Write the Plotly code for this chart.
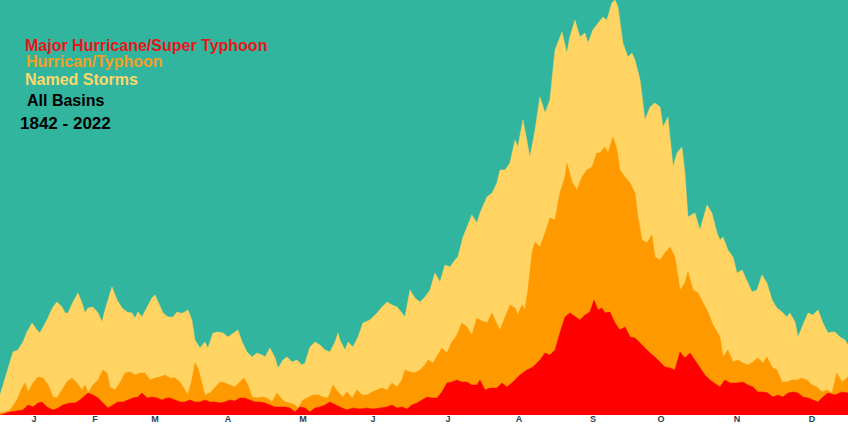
import plotly.graph_objects as go

# Day of year (approx) and relative daily frequency
named_days = [0.0, 3.0, 5.6, 7.7, 9.9, 11.6, 13.8, 15.9, 17.2, 20.2, 22.8, 24.5, 26.7, 28.0, 29.3, 31.4, 33.6, 35.3, 36.6, 37.9,
              40.0, 42.2, 43.9, 45.2, 46.5, 48.2, 50.4, 52.5, 54.7, 56.8, 58.1, 59.4, 61.1, 63.3, 65.4, 66.7, 68.0, 70.2, 72.3,
              74.5, 76.2, 77.5, 78.8, 80.9, 82.6, 83.9, 86.1, 88.2, 89.5, 91.7, 93.8, 96.0, 98.1, 100.3, 102.4, 104.2, 106.3,
              108.5, 110.6, 112.8, 114.1, 116.2, 118.4, 119.7, 121.8, 123.5, 125.7, 127.8, 130.0, 131.3, 133.4, 135.6, 137.7,
              139.9, 142.0, 144.2, 145.5, 146.3, 148.5, 149.8, 151.9, 154.1, 156.2, 159.2, 162.3, 164.4, 166.6, 168.7, 170.9,
              173.0, 174.3, 176.5, 178.6, 180.8, 182.9, 185.1, 187.2, 189.4, 191.5, 193.7, 195.8, 197.1, 199.3, 201.4, 203.1,
              205.3, 206.6, 209.6, 211.8, 213.9, 215.2, 217.4, 219.5, 221.7, 222.9, 225.1, 228.1, 230.3, 232.4, 234.6, 236.7,
              238.9, 241.9, 244.0, 245.3, 247.5, 249.6, 251.8, 253.1, 255.2, 257.4, 259.5, 261.2, 263.4, 264.7, 266.0, 268.1,
              270.3, 272.0, 273.3, 275.5, 277.6, 279.8, 281.9, 284.1, 285.4, 287.5, 289.7, 291.4, 293.5, 294.8, 296.1, 299.1,
              301.3, 304.3, 306.4, 308.6, 309.9, 311.2, 313.3, 315.5, 317.2, 319.4, 321.5, 323.7, 325.8, 328.0, 330.1, 332.3,
              334.4, 336.6, 338.7, 340.0, 342.2, 343.5, 345.6, 347.8, 349.9, 352.1, 354.2, 356.4, 358.1, 359.4, 361.5, 363.7, 365.0]
named_vals = [20, 42, 63, 65, 73, 83, 92, 85, 82, 95, 108, 113, 108, 102, 102, 113, 122, 112, 102, 107,
              108, 102, 93, 105, 115, 128, 115, 107, 103, 102, 97, 103, 98, 108, 117, 120, 113, 102, 98,
              98, 103, 102, 102, 105, 95, 75, 67, 73, 67, 82, 83, 82, 78, 82, 85, 73, 63,
              58, 62, 60, 58, 67, 57, 47, 55, 58, 53, 55, 50, 52, 68, 73, 70,
              65, 63, 73, 82, 75, 65, 73, 68, 78, 92, 95, 102, 108, 113, 110, 108,
              102, 98, 125, 117, 113, 118, 125, 142, 133, 150, 148, 155, 158, 178, 190, 200,
              192, 202, 218, 222, 232, 245, 245, 252, 275, 268, 295, 258, 285, 318, 302, 315,
              365, 383, 362, 378, 395, 378, 382, 372, 385, 392, 398, 395, 412, 415, 408, 372,
              358, 362, 355, 335, 295, 308, 312, 308, 288, 298, 248, 262, 268, 242, 198, 202,
              185, 210, 202, 182, 175, 178, 165, 158, 142, 145, 135, 123, 125, 140, 132, 115,
              107, 103, 98, 102, 93, 78, 90, 102, 100, 105, 92, 82, 83, 83, 78, 75, 70]

hurr_days = [0.0, 2.2, 4.3, 7.3, 9.5, 10.8, 12.1, 14.2, 16.4, 18.5, 20.7, 22.8, 24.5, 26.7, 28.8, 31.0, 33.1, 35.3, 36.6, 37.9,
             40.0, 42.2, 44.3, 46.1, 47.3, 49.5, 51.6, 53.8, 56.0, 58.1, 60.3, 62.4, 64.6, 66.7, 68.9, 71.0, 73.2, 75.3, 77.5,
             79.6, 80.9, 82.6, 83.9, 85.2, 86.9, 88.2, 90.4, 92.5, 94.7, 96.8, 99.0, 101.1, 103.3, 105.0, 106.7, 108.5, 110.6,
             112.8, 114.9, 117.1, 119.2, 120.5, 122.7, 124.8, 127.0, 128.3, 130.4, 132.6, 134.7, 136.9, 139.0, 141.2, 143.3,
             145.5, 147.6, 149.3, 151.5, 153.7, 155.8, 158.0, 160.1, 162.3, 164.4, 166.6, 168.7, 170.9, 173.0, 174.3, 176.5,
             178.6, 180.8, 182.9, 184.2, 186.4, 188.5, 190.2, 192.4, 194.5, 196.7, 198.8, 201.0, 203.1, 205.3, 206.6, 209.6,
             211.8, 213.0, 215.2, 217.4, 219.5, 221.7, 222.9, 224.7, 226.0, 227.2, 229.0, 230.3, 232.4, 234.6, 236.7, 238.9,
             241.0, 243.2, 244.0, 246.2, 248.3, 250.5, 252.6, 254.8, 256.9, 258.2, 260.4, 261.7, 263.8, 265.6, 266.8, 269.0,
             271.2, 273.3, 274.6, 276.3, 278.5, 280.6, 281.9, 284.1, 286.2, 288.4, 290.5, 292.7, 294.8, 296.1, 298.3, 300.4,
             302.6, 304.7, 306.9, 309.0, 309.9, 311.2, 313.3, 315.5, 317.6, 319.8, 321.9, 324.1, 326.2, 328.4, 330.1, 332.3,
             334.4, 336.6, 338.7, 340.9, 343.0, 345.2, 347.3, 349.5, 351.6, 353.8, 355.9, 358.1, 360.2, 362.4, 365.0]
hurr_vals = [2, 3, 5, 15, 27, 32, 23, 32, 38, 37, 30, 18, 17, 25, 33, 37, 32, 25, 30, 22,
             30, 35, 45, 42, 28, 25, 32, 42, 43, 40, 42, 42, 35, 37, 38, 40, 37, 37, 33,
             25, 20, 35, 52, 47, 32, 20, 22, 27, 33, 32, 30, 28, 33, 37, 30, 18, 17,
             18, 17, 13, 22, 18, 13, 12, 10, 7, 15, 18, 20, 20, 18, 17, 30,
             23, 18, 23, 17, 25, 20, 20, 23, 25, 27, 25, 32, 28, 35, 45, 43,
             42, 45, 50, 55, 52, 60, 67, 62, 73, 80, 92, 88, 80, 97, 95, 92,
             102, 95, 85, 98, 110, 107, 100, 110, 105, 125, 162, 173, 168, 182, 197, 195,
             222, 238, 252, 233, 225, 238, 245, 248, 262, 262, 268, 262, 278, 265, 245, 238,
             232, 222, 198, 175, 172, 180, 158, 155, 162, 168, 158, 125, 132, 143, 125, 122,
             112, 103, 90, 82, 78, 58, 65, 53, 55, 52, 50, 53, 57, 52, 58, 48,
             45, 33, 33, 35, 35, 37, 35, 30, 28, 23, 25, 22, 42, 33, 38]

major_days = [0.0, 3.0, 4.3, 7.3, 9.9, 12.1, 14.2, 16.4, 18.1, 20.2, 22.8, 25.0, 27.1, 30.1, 32.3, 34.4, 36.6, 37.9, 40.0,
              42.2, 44.3, 46.5, 48.6, 50.8, 52.9, 55.1, 57.2, 59.4, 61.1, 63.3, 65.4, 67.6, 69.7, 71.9, 73.2, 75.3, 77.5,
              79.6, 81.8, 83.9, 86.1, 88.2, 90.4, 92.5, 94.7, 96.8, 99.0, 101.1, 103.3, 105.4, 107.6, 109.8, 111.9, 114.1,
              116.2, 118.4, 120.5, 122.7, 124.8, 127.0, 129.1, 131.3, 133.4, 135.6, 137.7, 139.9, 142.0, 144.2, 146.3, 149.3,
              151.9, 154.9, 158.0, 160.5, 163.6, 166.6, 168.7, 170.9, 173.0, 175.2, 177.3, 179.5, 181.6, 183.8, 185.9, 188.1,
              190.2, 192.4, 194.5, 196.7, 198.8, 201.0, 203.1, 205.3, 206.6, 208.7, 210.9, 213.9, 216.1, 218.2, 220.8, 223.8,
              226.8, 229.4, 232.4, 234.6, 236.7, 238.9, 241.0, 243.2, 245.3, 247.5, 249.6, 251.8, 253.9, 255.7, 257.4, 259.1,
              260.4, 262.5, 264.7, 266.8, 269.0, 271.2, 273.3, 275.5, 277.6, 279.8, 281.9, 284.1, 286.2, 288.4, 290.5, 292.7,
              294.8, 297.0, 299.1, 301.3, 303.4, 305.6, 307.7, 309.9, 312.0, 314.2, 317.2, 319.8, 321.9, 324.1, 326.2, 328.4,
              330.5, 332.7, 334.9, 337.0, 339.2, 341.3, 343.5, 345.6, 347.8, 349.9, 352.1, 354.2, 356.4, 359.4, 362.4, 365.0]
major_vals = [0, 2, 3, 4, 5, 10, 8, 12, 13, 8, 5, 7, 10, 12, 12, 15, 20, 22, 20,
              17, 12, 7, 10, 13, 13, 15, 17, 18, 22, 17, 18, 17, 15, 17, 17, 15, 13,
              13, 15, 13, 13, 15, 13, 13, 12, 13, 15, 14, 17, 17, 15, 13, 13, 12,
              10, 8, 8, 8, 7, 3, 8, 7, 3, 7, 8, 10, 13, 10, 8, 5,
              7, 6, 7, 6, 7, 8, 10, 7, 8, 6, 10, 12, 15, 18, 17, 17,
              23, 32, 33, 35, 33, 33, 30, 30, 35, 25, 27, 27, 32, 28, 33, 40,
              45, 48, 55, 62, 60, 65, 82, 98, 102, 98, 95, 100, 103, 115, 105, 107,
              102, 103, 92, 85, 88, 78, 77, 72, 67, 62, 58, 53, 48, 47, 45, 63,
              57, 62, 55, 48, 40, 35, 32, 28, 35, 32, 32, 33, 30, 28, 23, 23,
              22, 18, 20, 18, 22, 23, 22, 18, 17, 15, 13, 18, 22, 20, 23, 22]

month_labels = ["J", "F", "M", "A", "M", "J", "J", "A", "S", "O", "N", "D"]
month_ticks = [14.6, 40.9, 66.7, 98.1, 130.4, 160.5, 192.8, 223.4, 255.2, 284.5, 317.2, 349.5]

TEAL = "#31B59F"
YELLOW = "#FFD463"
ORANGE = "#FF9900"
RED = "#FF0000"

fig = go.Figure()
for days, vals, col in [(named_days, named_vals, YELLOW),
                        (hurr_days, hurr_vals, ORANGE),
                        (major_days, major_vals, RED)]:
    fig.add_trace(go.Scatter(x=days, y=vals, mode="lines", fill="tozeroy",
                             fillcolor=col, line=dict(color=col, width=0.5),
                             hoverinfo="skip", showlegend=False))

texts = [
    ("Major Hurricane/Super Typhoon", "#E8161A", 23, 45, 16),
    ("Hurrican/Typhoon", "#F0A024", 24, 62, 16),
    ("Named Storms", "#FCD86A", 23, 80, 16),
    ("All Basins", "#000000", 25, 101, 16),
    ("1842 - 2022", "#000000", 18, 123, 17),
]
PLOT_H = 415
for t, c, px, py, fs in texts:
    fig.add_annotation(text="<b>%s</b>" % t, x=px / 848, y=1 - py / PLOT_H,
                       xref="paper", yref="paper", xanchor="left", yanchor="middle",
                       showarrow=False,
                       font=dict(family="Liberation Sans, Arial, sans-serif", size=fs, color=c))

fig.update_layout(
    width=848, height=424,
    margin=dict(l=0, r=0, t=0, b=9),
    paper_bgcolor="white",
    plot_bgcolor=TEAL,
    xaxis=dict(range=[0, 365], showgrid=False, zeroline=False, showline=False,
               tickmode="array", tickvals=month_ticks, ticktext=month_labels,
               ticks="", ticklen=0, ticklabelstandoff=-3,
               tickfont=dict(family="Liberation Sans, Arial, sans-serif", size=9,
                             color="#2d3e50", weight="bold")),
    yaxis=dict(range=[0, 415], visible=False, showgrid=False, zeroline=False),
)

fig.write_html("out.html", config={"displayModeBar": False, "staticPlot": True},
               post_script="document.body.style.margin='0';document.body.style.overflow='hidden';")
